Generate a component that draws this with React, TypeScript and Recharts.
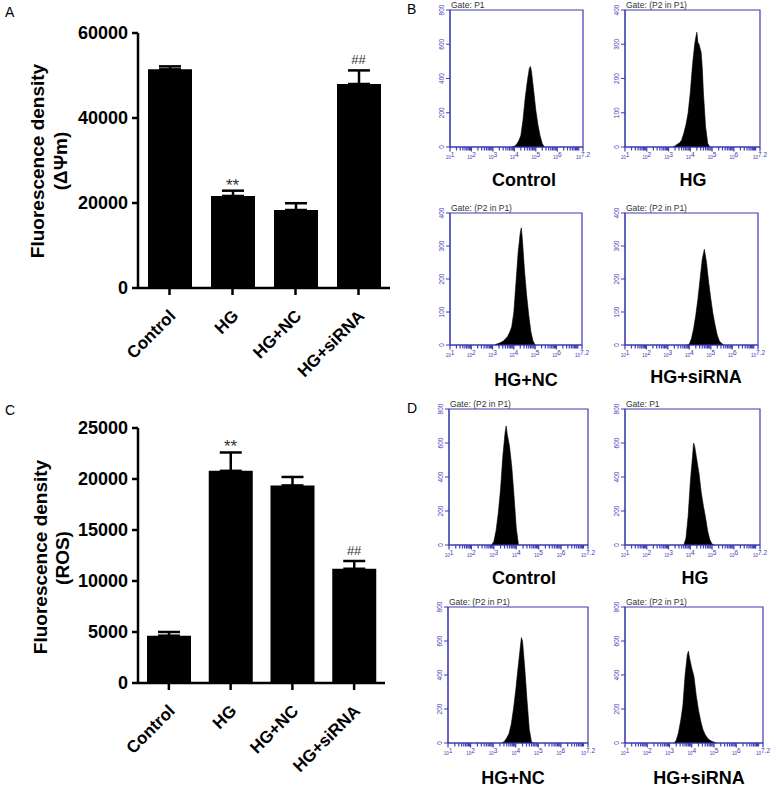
import React from "react";
import {
	Area,
	AreaChart,
	Bar,
	BarChart,
	ErrorBar,
	ReferenceArea,
	ReferenceDot,
	XAxis,
	YAxis,
} from "recharts";

const FONT = "Arial, 'Liberation Sans', Helvetica, sans-serif";
const BLUE = "#3c3cb4";

// bar charts (A: mitochondrial potential, C: ROS)
const groups = ["Control", "HG", "HG+NC", "HG+siRNA"];
const mmpMean = [51450, 21650, 18350, 48000];
const mmpErr = [700, 1250, 1600, 3200];
const rosMean = [4640, 20800, 19370, 11200];
const rosErr = [360, 1800, 830, 760];
const marks = ["", "**", "", "##"];
const mmpTicks = [0, 20000, 40000, 60000];
const rosTicks = [0, 5000, 10000, 15000, 20000, 25000];

// flow histograms: log10 fluorescence bin and event count
const bCtrlLog = [3.9, 4.0, 4.1, 4.2, 4.3, 4.4, 4.5, 4.6, 4.7, 4.75, 4.8, 4.9, 5.0, 5.1, 5.2, 5.3, 5.4];
const bCtrlN = [0, 5, 15, 35, 65, 155, 280, 380, 460, 470, 440, 330, 215, 130, 65, 20, 0];
const bHgLog = [3.2, 3.3, 3.4, 3.5, 3.6, 3.7, 3.8, 3.9, 4.0, 4.1, 4.2, 4.25, 4.3, 4.35, 4.4, 4.5, 4.55, 4.6, 4.7, 4.8, 4.9];
const bHgN = [0, 3, 8, 12, 20, 40, 65, 100, 160, 240, 300, 320, 335, 305, 300, 275, 230, 160, 60, 10, 0];
const bNcLog = [3.1, 3.2, 3.3, 3.4, 3.5, 3.6, 3.7, 3.8, 3.9, 4.0, 4.1, 4.2, 4.3, 4.35, 4.4, 4.5, 4.6, 4.7, 4.8, 4.9, 5.0];
const bNcN = [0, 3, 5, 8, 12, 18, 25, 38, 55, 100, 190, 280, 340, 355, 320, 225, 150, 90, 40, 12, 0];
const bSiLog = [3.9, 4.0, 4.1, 4.2, 4.3, 4.4, 4.5, 4.6, 4.7, 4.8, 4.9, 5.0, 5.1, 5.2, 5.3, 5.4, 5.5, 5.6];
const bSiN = [0, 3, 20, 50, 90, 140, 200, 260, 290, 250, 190, 140, 95, 60, 30, 12, 5, 0];

const dCtrlLog = [2.9, 3.0, 3.1, 3.2, 3.3, 3.4, 3.5, 3.55, 3.6, 3.7, 3.8, 3.9, 4.0, 4.1];
const dCtrlN = [0, 20, 85, 190, 330, 520, 660, 700, 650, 580, 460, 290, 100, 0];
const dHgLog = [3.7, 3.8, 3.9, 4.0, 4.1, 4.15, 4.2, 4.3, 4.4, 4.5, 4.6, 4.7, 4.8, 4.9, 5.0, 5.1];
const dHgN = [0, 40, 170, 370, 520, 600, 580, 500, 420, 310, 230, 160, 80, 30, 5, 0];
const dNcLog = [3.4, 3.5, 3.6, 3.7, 3.8, 3.9, 4.0, 4.1, 4.2, 4.25, 4.3, 4.4, 4.5, 4.6, 4.7, 4.8];
const dNcN = [0, 10, 30, 55, 110, 200, 310, 440, 560, 620, 600, 440, 250, 80, 5, 0];
const dSiLog = [3.2, 3.3, 3.4, 3.5, 3.6, 3.7, 3.8, 3.85, 3.9, 4.0, 4.1, 4.2, 4.3, 4.4, 4.5, 4.6, 4.7, 4.8, 4.9, 5.0, 5.1];
const dSiN = [0, 15, 60, 130, 220, 400, 520, 540, 500, 440, 390, 280, 195, 130, 80, 50, 30, 18, 10, 5, 0];

const decades = [1, 2, 3, 4, 5, 6, 7.2];
const decadeLabels = ["1", "2", "3", "4", "5", "6", "7.2"];

// log axis minor ticks (2..9 x 10^n)
const logTicks: number[] = [];
for (let n = 1; n <= 6; n++) {
	logTicks.push(n);
	for (let k = 2; k <= 9; k++) logTicks.push(n + Math.log10(k));
}
logTicks.push(7, 7.2);

function CatTick(p: any) {
	const x = p.x + 7;
	const y = p.y + 18;
	return (
		<text
			x={x}
			y={y}
			transform={`rotate(-45 ${x} ${y})`}
			textAnchor="end"
			fontSize={17}
			fontWeight={700}
			fontFamily={FONT}
			fill="#000"
		>
			{p.payload.value}
		</text>
	);
}

function SigLabel({ viewBox, mark }: any) {
	const stars = mark === "**";
	return (
		<text
			x={viewBox.x}
			y={viewBox.y - (stars ? 0 : 6)}
			textAnchor="middle"
			fontSize={stars ? 17 : 13}
			fontFamily={FONT}
			fill="#333"
		>
			{mark}
		</text>
	);
}

function BarPanel({ top, means, errs, ticks, max, axisWidth }: any) {
	const data = groups.map((g, i) => ({
		name: g,
		value: means[i],
		err: [0, errs[i]],
		mark: marks[i],
	}));
	return (
		<div style={{ position: "absolute", left: 0, top, width: 400, height: 390 }}>
			<BarChart
				width={400}
				height={390}
				data={data}
				margin={{ top: 33, right: 400 - 138 - axisWidth, left: 70, bottom: 12 }}
			>
				<YAxis
					type="number"
					domain={[0, max]}
					ticks={ticks}
					width={68}
					stroke="#000"
					axisLine={{ strokeWidth: 2.5 }}
					tickLine={{ strokeWidth: 2.5 }}
					tickSize={6}
					tickMargin={4}
					tick={{ fontSize: 18, fontWeight: 700, fill: "#000", fontFamily: FONT }}
				/>
				<XAxis
					dataKey="name"
					height={90}
					interval={0}
					stroke="#000"
					axisLine={{ strokeWidth: 2.5 }}
					tickLine={{ strokeWidth: 2.5 }}
					tickSize={7}
					tickMargin={4}
					tick={<CatTick />}
				/>
				<Bar dataKey="value" fill="#000" barSize={44} isAnimationActive={false}>
					<ErrorBar dataKey="err" width={11} stroke="#000" strokeWidth={2.5} direction="y" />
				</Bar>
				{data
					.filter((d) => d.mark)
					.map((d) => (
						<ReferenceDot
							key={d.name}
							x={d.name}
							y={d.value + d.err[1]}
							r={0}
							stroke="none"
							label={<SigLabel mark={d.mark} />}
						/>
					))}
			</BarChart>
		</div>
	);
}

function LogTick(p: any) {
	const v = p.payload.value;
	const i = decades.indexOf(v);
	const major = i >= 0;
	return (
		<g>
			<line x1={p.x} x2={p.x} y1={p.y} y2={p.y + (major ? 4.5 : 3.5)} stroke={BLUE} strokeWidth={1.2} />
			{major && (
				<text x={p.x} y={p.y + 12} textAnchor="middle" fill={BLUE} fontFamily={FONT}>
					<tspan fontSize={4.5}>10</tspan>
					<tspan fontSize={6.5} dy={-2}>
						{decadeLabels[i]}
					</tspan>
				</text>
			)}
		</g>
	);
}

function CountTick(p: any) {
	return (
		<text
			x={p.x}
			y={p.y}
			transform={`rotate(-90 ${p.x} ${p.y})`}
			textAnchor="middle"
			fontSize={6.5}
			fill={BLUE}
			fontFamily={FONT}
		>
			{p.payload.value}
		</text>
	);
}

function Hist({ x, y, w, h, logs, counts, ymax, gate, label, lx, ly }: any) {
	const data = logs.map((v: number, i: number) => ({ x: v, n: counts[i] }));
	const yTicks = [0, ymax / 4, ymax / 2, (ymax * 3) / 4, ymax];
	return (
		<>
			<div style={{ position: "absolute", left: x - 20, top: y - 12 }}>
				<AreaChart
					width={w + 32}
					height={h + 28}
					data={data}
					margin={{ top: 12, right: 12, left: 0, bottom: 0 }}
				>
					<XAxis
						dataKey="x"
						type="number"
						domain={[1, 7.2]}
						ticks={logTicks}
						interval={0}
						height={16}
						tickSize={0}
						tickMargin={0}
						tickLine={false}
						axisLine={{ stroke: BLUE, strokeWidth: 1.2 }}
						tick={<LogTick />}
					/>
					<YAxis
						type="number"
						domain={[0, ymax]}
						ticks={yTicks}
						width={20}
						stroke={BLUE}
						tickSize={4}
						tickMargin={2}
						tick={<CountTick />}
					/>
					<ReferenceArea x1={1} x2={7.2} y1={0} y2={ymax} fill="none" stroke={BLUE} strokeWidth={1.2} />
					<Area
						dataKey="n"
						type="linear"
						fill="#000"
						fillOpacity={1}
						stroke="#000"
						strokeWidth={0.6}
						isAnimationActive={false}
					/>
				</AreaChart>
			</div>
			<div
				style={{
					position: "absolute",
					left: x + 1,
					top: y - 9,
					fontSize: 8.5,
					lineHeight: 1,
					color: "#333",
					fontFamily: FONT,
					whiteSpace: "nowrap",
				}}
			>
				{gate}
			</div>
			<div
				style={{
					position: "absolute",
					left: lx,
					top: ly,
					transform: "translate(-50%, -50%)",
					fontSize: 18,
					fontWeight: 700,
					fontFamily: FONT,
					lineHeight: 1,
					whiteSpace: "nowrap",
				}}
			>
				{label}
			</div>
		</>
	);
}

function VText({ x, y, children }: any) {
	return (
		<div
			style={{
				position: "absolute",
				left: x,
				top: y,
				transform: "translate(-50%, -50%) rotate(-90deg)",
				fontSize: 19,
				fontWeight: 700,
				fontFamily: FONT,
				lineHeight: 1,
				whiteSpace: "nowrap",
			}}
		>
			{children}
		</div>
	);
}

function Letter({ x, y, children }: any) {
	return (
		<div style={{ position: "absolute", left: x, top: y, fontSize: 14, fontFamily: FONT, lineHeight: 1 }}>
			{children}
		</div>
	);
}

export default function App() {
	return (
		<div
			style={{
				position: "absolute",
				left: 0,
				top: 0,
				width: 777,
				height: 788,
				background: "#fff",
				overflow: "hidden",
				fontFamily: FONT,
			}}
		>
			<Letter x={5} y={5}>A</Letter>
			<Letter x={407} y={2}>B</Letter>
			<Letter x={5} y={403}>C</Letter>
			<Letter x={407} y={401}>D</Letter>

			<BarPanel top={0} means={mmpMean} errs={mmpErr} ticks={mmpTicks} max={60000} axisWidth={252} />
			<VText x={37} y={161}>Fluorescence density</VText>
			<VText x={60} y={161}>(ΔΨm)</VText>

			<BarPanel top={395} means={rosMean} errs={rosErr} ticks={rosTicks} max={25000} axisWidth={247} />
			<VText x={40} y={557}>Fluorescence density</VText>
			<VText x={62} y={558}>(ROS)</VText>

			<Hist x={450} y={10} w={133} h={137} logs={bCtrlLog} counts={bCtrlN} ymax={800} gate="Gate: P1" label="Control" lx={524} ly={180} />
			<Hist x={625} y={10} w={135} h={137} logs={bHgLog} counts={bHgN} ymax={400} gate="Gate: (P2 in P1)" label="HG" lx={693} ly={180} />
			<Hist x={450} y={213} w={132} h={132} logs={bNcLog} counts={bNcN} ymax={400} gate="Gate: (P2 in P1)" label="HG+NC" lx={526} ly={380} />
			<Hist x={625} y={213} w={133} h={132} logs={bSiLog} counts={bSiN} ymax={400} gate="Gate: (P2 in P1)" label="HG+siRNA" lx={696} ly={377} />

			<Hist x={449} y={409} w={139} h={136} logs={dCtrlLog} counts={dCtrlN} ymax={800} gate="Gate: (P2 in P1)" label="Control" lx={524} ly={578} />
			<Hist x={625} y={409} w={135} h={136} logs={dHgLog} counts={dHgN} ymax={800} gate="Gate: P1" label="HG" lx={695} ly={578} />
			<Hist x={448} y={607} w={140} h={136} logs={dNcLog} counts={dNcN} ymax={800} gate="Gate: (P2 in P1)" label="HG+NC" lx={513} ly={778} />
			<Hist x={625} y={607} w={138} h={136} logs={dSiLog} counts={dSiN} ymax={800} gate="Gate: (P2 in P1)" label="HG+siRNA" lx={699} ly={778} />
		</div>
	);
}
